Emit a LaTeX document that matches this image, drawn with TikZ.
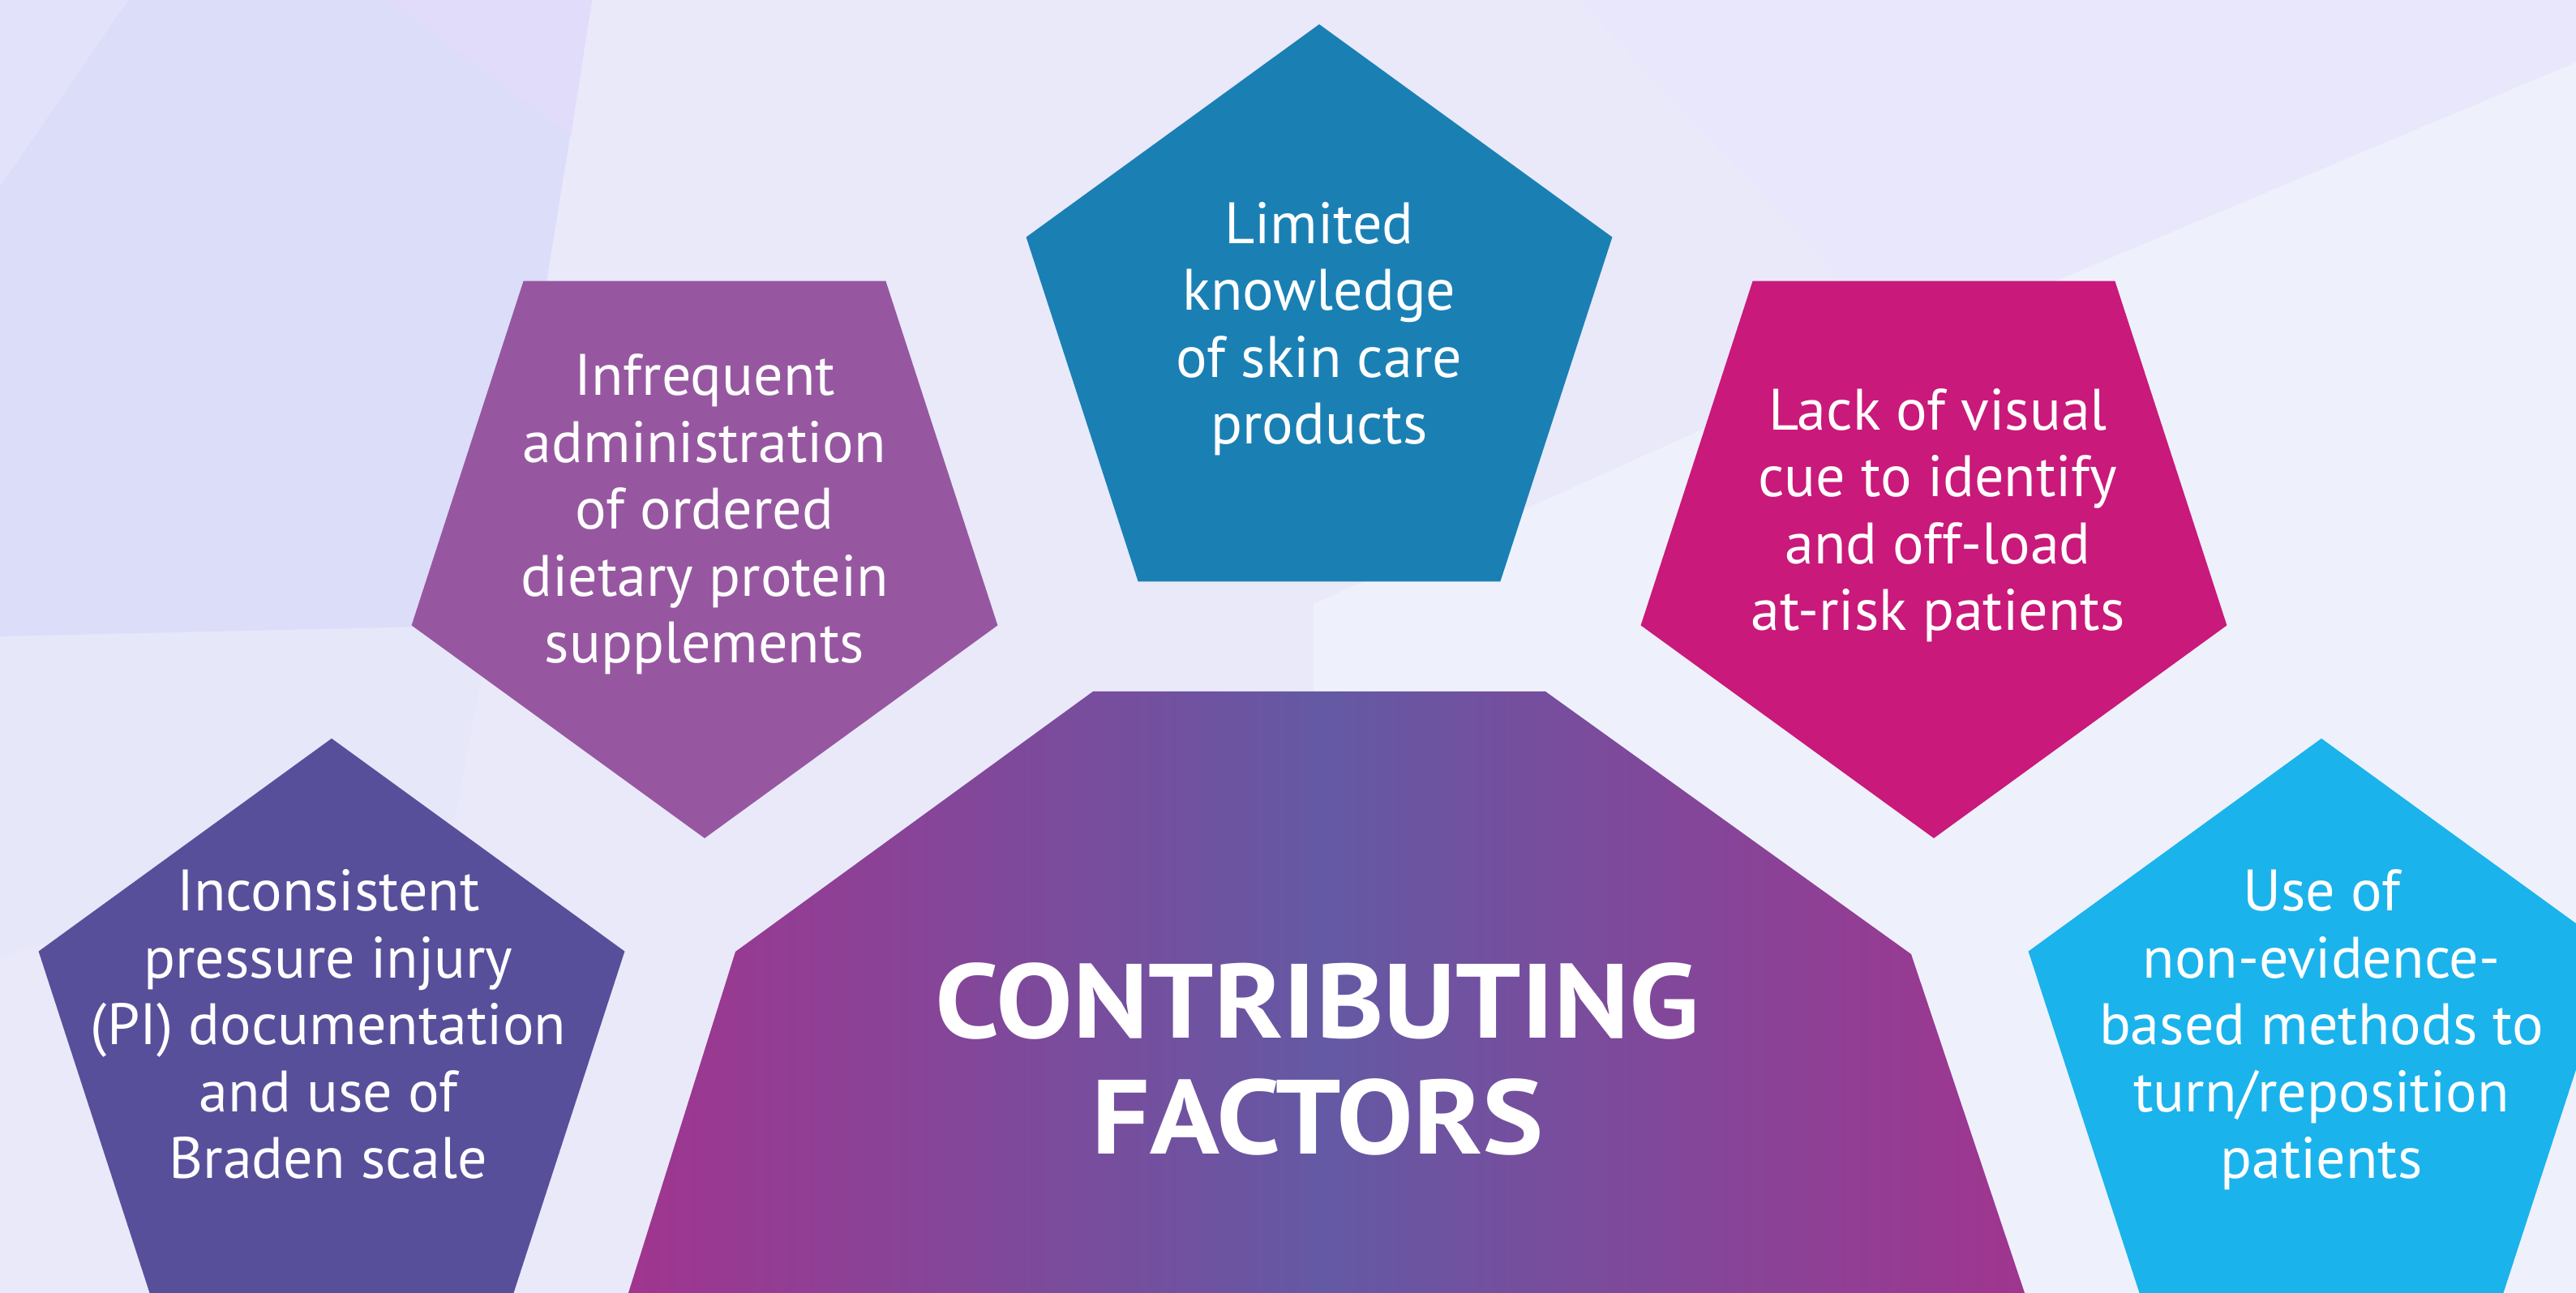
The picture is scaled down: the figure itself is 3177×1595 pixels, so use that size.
\documentclass[tikz,border=0pt]{standalone}
\usepackage{fontspec}
\setmainfont{PT Sans}
\usepackage{tikz}
\definecolor{bgbase}{HTML}{E9E9F9}
\definecolor{bgcorner}{HTML}{E2E3FA}
\definecolor{bgdark}{HTML}{DCDDF9}
\definecolor{bgtint}{HTML}{E0DCF9}
\definecolor{bgmid}{HTML}{E6E7F9}
\definecolor{bgupper}{HTML}{E9E7FB}
\definecolor{bglight}{HTML}{EEF1FB}
\definecolor{knowblue}{HTML}{1A80B4}
\definecolor{protein}{HTML}{9657A0}
\definecolor{visual}{HTML}{C9197A}
\definecolor{braden}{HTML}{584F9B}
\definecolor{turnblue}{HTML}{1BB3EC}
\definecolor{cfedge}{HTML}{A0358F}
\definecolor{cfmid}{HTML}{6459A4}
\tikzset{%
    factor/.style={text=white, align=center, anchor=base, inner sep=0pt,
        font=\fontsize{20.5}{23.5}\selectfont},
    headline/.style={text=white, align=center, anchor=base, inner sep=0pt,
        font=\bfseries\fontsize{37}{40.7}\selectfont\addfontfeatures{FakeStretch=1.09}}
}

\begin{document}
\begin{tikzpicture}[x=0.01cm, y=0.01cm]
        \clip (0,0) rectangle (3177,1595);

        % faceted background
        \fill[bgbase] (0,0) rectangle (3177,1595);
        \fill[bgupper] (1947,1595) -- (3177,1595) -- (3177,1518) -- (2099,1065) -- (2273,1248) -- cycle;
        \fill[bglight] (3177,1518) -- (2099,1065) -- (1620,850) -- (1620,0) -- (3177,0) -- cycle;
        \fill[bgmid] (0,810) -- (606,824) -- (560,582) -- (0,415) -- cycle;
        \fill[bgdark] (158,1595) -- (730,1595) -- (606,824) -- (0,810) -- (0,1365) -- cycle;
        \fill[bgtint] (480,1595) -- (730,1595) -- (704,1427) -- cycle;
        \fill[bgcorner] (0,1595) -- (158,1595) -- (0,1365) -- cycle;

        % pentagons
        \fill[knowblue] (1627,1185) +(90:380) -- +(162:380) -- +(234:380) -- +(306:380) -- +(18:380) -- cycle;
        \fill[protein] (869,941) +(270:380) -- +(342:380) -- +(54:380) -- +(126:380) -- +(198:380) -- cycle;
        \fill[visual] (2385,941) +(270:380) -- +(342:380) -- +(54:380) -- +(126:380) -- +(198:380) -- cycle;
        \fill[braden] (409,304) +(90:380) -- +(162:380) -- +(234:380) -- +(306:380) -- +(18:380) -- cycle;
        \fill[turnblue] (2863,304) +(90:380) -- +(162:380) -- +(234:380) -- +(306:380) -- +(18:380) -- cycle;

        % centre block
        \shade[left color=cfedge, right color=cfedge, middle color=cfmid]
            (775,0) -- (907,421) -- (1348,742) -- (1906,742) -- (2357,418) -- (2497,0) -- cycle;

        % base anchor sits on the last line
        \node[factor] (knowledge) at (1627,1047) {Limited\\knowledge\\of skin care\\products};
        \node[factor] (supplements) at (869,777) {Infrequent\\administration\\of ordered\\dietary protein\\supplements};
        \node[factor] (cue) at (2390,817) {Lack of visual\\cue to identify\\and off-load\\at-risk patients};
        \node[factor] (documentation) at (405,141) {Inconsistent\\pressure injury\\(PI) documentation\\and use of\\Braden scale};
        \node[factor] (reposition) at (2863,141) {Use of\\non-evidence-\\based methods to\\turn/reposition\\patients};
        \node[headline] (factors) at (1625,171) {CONTRIBUTING\\FACTORS};
    \end{tikzpicture}
\end{document}
